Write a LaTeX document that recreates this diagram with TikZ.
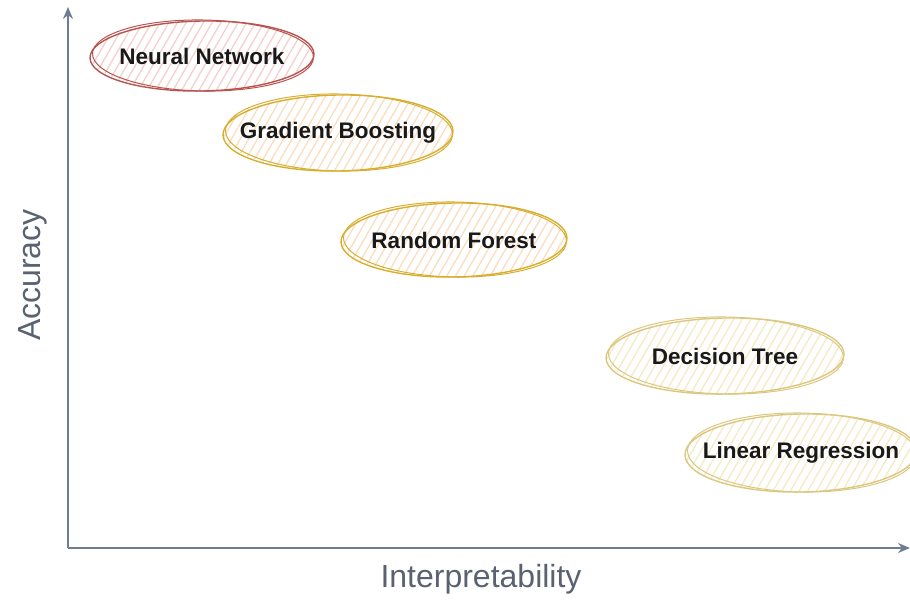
\documentclass[tikz,border=0pt]{standalone}
\usepackage{fontspec}
\setmainfont{Liberation Sans}
\usetikzlibrary{arrows.meta,patterns.meta}

\definecolor{axisgrey}{HTML}{6F7D92}
\definecolor{labelgrey}{HTML}{5A6170}
\definecolor{redline}{HTML}{B85450}
\definecolor{redhatch}{HTML}{F5CFCB}
\definecolor{goldline}{HTML}{D7AE2E}
\definecolor{goldhatch}{HTML}{FADDC0}
\definecolor{paleline}{HTML}{DCC77E}
\definecolor{palehatch}{HTML}{F4EAC6}

\tikzset{
  axis/.style={draw=axisgrey, line width=1.6pt, -{Stealth[length=12pt,width=10pt]}},
  axislabel/.style={text=labelgrey, font=\fontsize{32}{32}\selectfont},
  model/.style={font=\fontsize{22.5}{22.5}\selectfont\bfseries, text=black!90, inner sep=0pt},
  hatch/.style={pattern={Lines[angle=60,distance=7.5pt,line width=1.3pt]}, pattern color=#1},
  sketch/.style={draw=#1, line width=1.4pt}
}

% hatched ellipse with a doubled, hand-drawn outline around a named node
\newcommand{\bubble}[5]{%
  \path[hatch=#4] (#1.center) ellipse [x radius=#2, y radius=#3];
  \draw[sketch=#5] (#1.center) ellipse [x radius=#2, y radius=#3, rotate=1];
  \draw[sketch=#5, line width=1pt] ([xshift=1pt,yshift=0.5pt]#1.center) ellipse [x radius=#2-1.5, y radius=#3+0.5, rotate=-1];
}

\begin{document}
\begin{tikzpicture}[x=1pt,y=-1pt]
  \useasboundingbox (0,0) rectangle (910,600);

  % the five models, placed by interpretability and accuracy
  \coordinate (nn) at (202,56);
  \coordinate (gb) at (338,133);
  \coordinate (rf) at (454,240);
  \coordinate (dt) at (725,356);
  \coordinate (lr) at (801,453);

  \bubble{nn}{112}{35}{redhatch}{redline}
  \bubble{gb}{115}{38}{goldhatch}{goldline}
  \bubble{rf}{113}{37}{goldhatch}{goldline}
  \bubble{dt}{119}{38}{palehatch}{paleline}
  \bubble{lr}{116}{39}{palehatch}{paleline}

  \node[model] (nnlabel) at (nn) {Neural Network};
  \node[model] (gblabel) at (gb) {Gradient Boosting};
  \node[model] (rflabel) at (rf) {Random Forest};
  \node[model] (dtlabel) at (dt) {Decision Tree};
  \node[model] (lrlabel) at (lr) {Linear Regression};

  % axes
  \coordinate (origin) at (68,548);
  \coordinate (ytip) at (68,7);
  \coordinate (xtip) at (910,548);
  \draw[axis] (origin) -- (ytip);
  \draw[axis] (origin) -- (xtip);

  \node[axislabel] (xlabel) at (481,579) {Interpretability};
  \node[axislabel, rotate=90] (ylabel) at (33,275) {Accuracy};
\end{tikzpicture}
\end{document}
